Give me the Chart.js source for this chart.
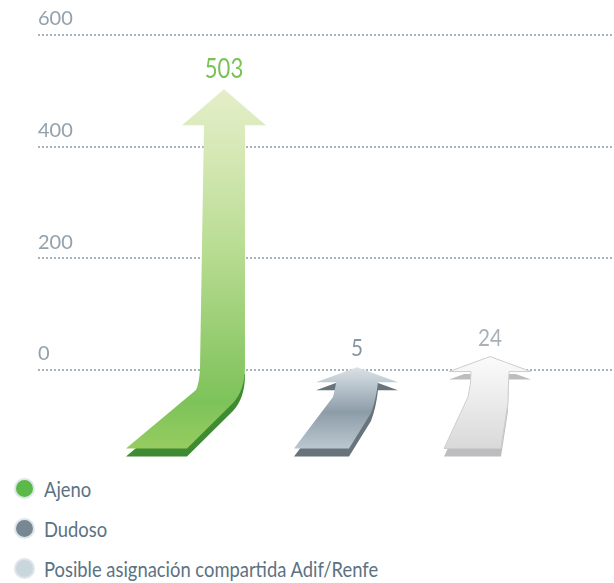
<!DOCTYPE html>
<html>
<head>
<meta charset="utf-8">
<script src="https://cdn.jsdelivr.net/npm/chart.js@4"></script>
<style>
  html, body { margin: 0; padding: 0; background: #fff; }
  body { width: 614px; height: 583px; position: relative; overflow: hidden;
         font-family: Lato, sans-serif; }
  #wrap { position: absolute; left: 0; top: 0; width: 614px; height: 470px; }
  #legend { position: absolute; left: 14px; top: 478px; }
  .item { height: 40px; display: flex; align-items: flex-start; color: #5b7282; font-size: 21px; }
  .dot { width: 21px; height: 21px; border-radius: 50%; border: 2px solid #dfe6ea;
         box-sizing: border-box; margin-right: 9px; flex: none; }
  .item span { line-height: 22px; display: inline-block; transform: scaleX(0.875); transform-origin: left center; white-space: nowrap; }
</style>
</head>
<body>
<div id="wrap"><canvas id="cv" width="614" height="470"></canvas></div>
<div id="legend"></div>
<script>
/* datos */
const CATEGORIAS = ["Ajeno", "Dudoso", "Posible asignación compartida Adif/Renfe"];
const VALORES = [503, 5, 24];
const TICKS_Y = [0, 200, 400, 600];

/* estilo de cada flecha (forma relativa al centro, colores) */
const ESTILOS = [
  { label: "#78c257", font: 26, sx: 0.85, dot: "#5bb947",
    stops: [[0, "#e4eec9"], [0.16, "#d7e9b7"], [0.47, "#b6db8f"], [0.78, "#8ac765"], [0.87, "#7dc35a"], [1, "#96cc5f"]],
    strip: "#3f8b34", outline: null,
    hw: 42, hh: 36, sl: -20, sr: 21,
    r: [21, -3, 21, 20, 9, 33], br: -37, bl: -98, l: [-24, 0, -25, 14, -28, 20] },
  { label: "#8896a1", font: 23, sx: 0.9, dot: "#778893",
    stops: [[0, "#dbe2e7"], [0.25, "#b7c3cb"], [0.55, "#8d9da8"], [1, "#bac7cf"]],
    strip: "#67747c", outline: null,
    hw: 41, hh: 15, sl: -21, sr: 21,
    r: [21, 3, 19, 30, 14, 43], br: -8, bl: -63, l: [-21, 3, -21, 15, -24, 27] },
  { label: "#a9b1b8", font: 23, sx: 0.9, dot: "#cad6de",
    stops: [[0, "#fbfbfb"], [0.4, "#eeeeee"], [1, "#d9d9da"]],
    strip: "#bdbdc0", outline: "#cdcdcd",
    hw: 41, hh: 15, sl: -19, sr: 19,
    r: [19, 2, 18, 20, 18, 33], br: 11, bl: -46, l: [-19, 2, -19, 15, -22, 27] }
];
const GROSOR_BASE = 8;

function pathFlecha(ctx, s, cx, tipY, z, bot){
  const hb = tipY + s.hh;
  ctx.beginPath();
  ctx.moveTo(cx, tipY);
  ctx.lineTo(cx + s.hw, hb);
  ctx.lineTo(cx + s.sr, hb);
  ctx.lineTo(cx + s.r[0], Math.max(hb, z + s.r[1]));
  ctx.quadraticCurveTo(cx + s.r[2], z + s.r[3], cx + s.r[4], z + s.r[5]);
  ctx.lineTo(cx + s.br, bot);
  ctx.lineTo(cx + s.bl, bot);
  ctx.lineTo(cx + s.l[4], z + s.l[5]);
  ctx.quadraticCurveTo(cx + s.l[2], z + s.l[3], cx + s.l[0], Math.max(hb, z + s.l[1]));
  ctx.lineTo(cx + s.sl, hb);
  ctx.lineTo(cx - s.hw, hb);
  ctx.closePath();
}

const flechas = {
  id: "flechas",
  afterDatasetsDraw(chart){
    const ctx = chart.ctx;
    const y = chart.scales.y;
    const z = y.getPixelForValue(0);
    const base = y.getPixelForValue(y.min);
    const bot = base - GROSOR_BASE;
    chart.getDatasetMeta(0).data.forEach((el, i) => {
      const s = ESTILOS[i];
      const cx = el.x, tipY = el.y;
      // canto inferior (sombra 3D)
      ctx.save();
      ctx.beginPath();
      ctx.rect(0, z + 4, chart.width, chart.height);
      ctx.clip();
      pathFlecha(ctx, s, cx, tipY + GROSOR_BASE, z + GROSOR_BASE, bot + GROSOR_BASE);
      ctx.fillStyle = s.strip;
      ctx.fill();
      ctx.restore();
      // cuerpo
      const g = ctx.createLinearGradient(0, tipY, 0, bot);
      s.stops.forEach(([o, c]) => g.addColorStop(o, c));
      pathFlecha(ctx, s, cx, tipY, z, bot);
      ctx.fillStyle = g;
      ctx.fill();
      if (s.outline){
        ctx.strokeStyle = s.outline;
        ctx.lineWidth = 1;
        ctx.stroke();
      }
      // valor
      ctx.save();
      ctx.fillStyle = s.label;
      ctx.font = s.font + "px Lato, sans-serif";
      ctx.textAlign = "center";
      ctx.textBaseline = "alphabetic";
      ctx.translate(cx, tipY - 11);
      ctx.scale(s.sx, 1);
      ctx.fillText(String(VALORES[i]), 0, 0);
      ctx.restore();
    });
  }
};

new Chart(document.getElementById("cv"), {
  type: "bar",
  data: {
    datasets: [{
      data: CATEGORIAS.map((c, i) => ({ x: i, y: VALORES[i] })),
      backgroundColor: "rgba(0,0,0,0)",
      borderWidth: 0
    }]
  },
  options: {
    responsive: false,
    animation: false,
    layout: { padding: { left: 38, top: 35, right: 0, bottom: 13.5 } },
    plugins: { legend: { display: false }, tooltip: { enabled: false } },
    scales: {
      x: { type: "linear", offset: false, min: -1.398, max: 2.932, display: false },
      y: {
        min: -155, max: 600,
        afterBuildTicks: (sc) => { sc.ticks = TICKS_Y.map(v => ({ value: v })); },
        grid: { color: "#a7b4be", lineWidth: 2, drawTicks: false },
        border: { display: false, dash: [2, 2] },
        ticks: {
          mirror: true, padding: 0, labelOffset: -16,
          color: "#93a1ac",
          font: { family: "Lato, sans-serif", size: 20 }
        }
      }
    }
  },
  plugins: [flechas]
});

/* leyenda */
const leg = document.getElementById("legend");
CATEGORIAS.forEach((c, i) => {
  const it = document.createElement("div");
  it.className = "item";
  it.innerHTML = `<div class="dot" style="background:${ESTILOS[i].dot}"></div><span>${c}</span>`;
  leg.appendChild(it);
});
</script>
</body>
</html>
